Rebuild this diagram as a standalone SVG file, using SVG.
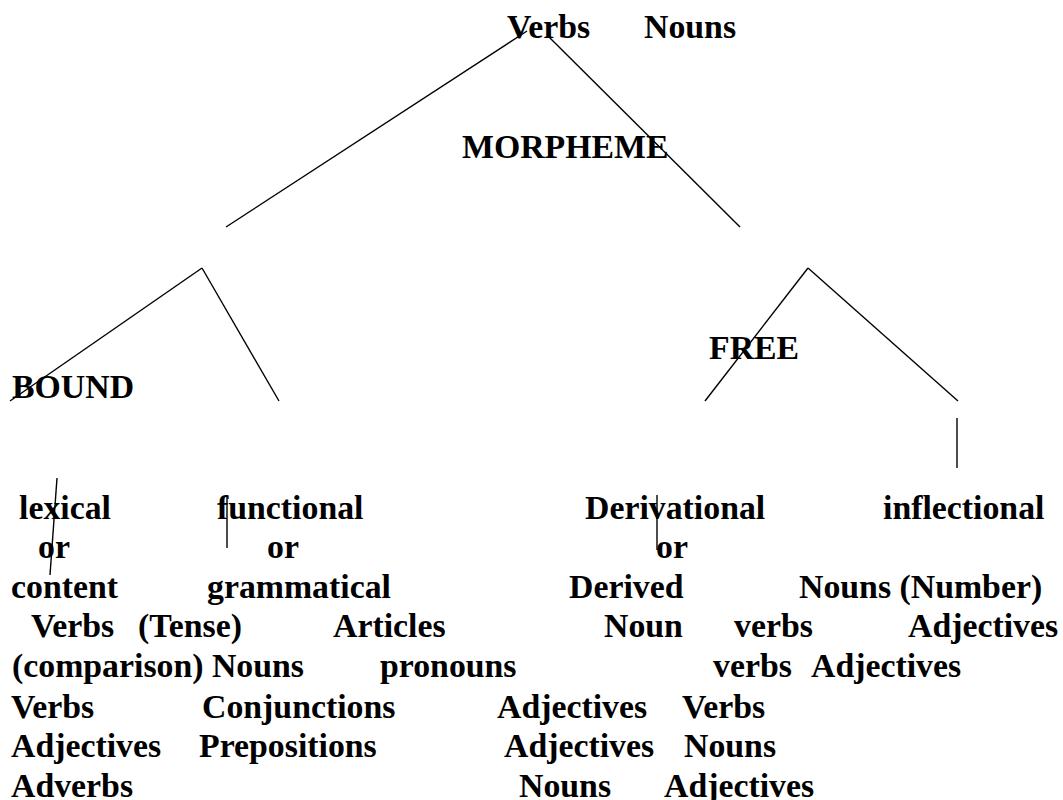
<svg xmlns="http://www.w3.org/2000/svg" width="1063" height="800" viewBox="0 0 1063 800">
<style>
text{font-family:"Liberation Serif","Times New Roman",serif;font-weight:bold;font-size:33.8px;fill:#000}
line{stroke:#000;stroke-width:1.4;fill:none}
</style>
<rect width="1063" height="800" fill="#fff"/>
<g id="connectors">
<line x1="226" y1="227" x2="527" y2="31"/>
<line x1="549" y1="37" x2="740" y2="227"/>
<line x1="10" y1="401" x2="202" y2="268"/>
<line x1="202" y1="268" x2="279" y2="401"/>
<line x1="705" y1="401" x2="808" y2="268"/>
<line x1="808" y1="268" x2="958" y2="401"/>
<line x1="957" y1="418" x2="957" y2="468"/>
<line x1="57" y1="478" x2="50" y2="575"/>
<line x1="227" y1="497" x2="227" y2="548"/>
<line x1="657" y1="495" x2="657" y2="550"/>
</g>
<g id="top-labels"><text x="507" y="38">Verbs</text><text x="644" y="38">Nouns</text></g>
<g id="morpheme"><text x="462" y="158">MORPHEME</text></g>
<g id="bound"><text x="12" y="398">BOUND</text></g>
<g id="free"><text x="709" y="359">FREE</text></g>
<g id="lexical">
<text x="19" y="519">lexical</text>
<text x="38" y="558">or</text>
<text x="11" y="598">content</text>
<text x="31" y="637">Verbs</text>
<text x="138" y="637">(Tense)</text>
<text x="12" y="677">(comparison) Nouns</text>
<text x="11" y="718">Verbs</text>
<text x="11" y="757">Adjectives</text>
<text x="11" y="797">Adverbs</text>
</g>
<g id="functional">
<text x="217" y="519">functional</text>
<text x="267" y="558">or</text>
<text x="207" y="598">grammatical</text>
<text x="333" y="637">Articles</text>
<text x="380" y="677">pronouns</text>
<text x="202" y="718">Conjunctions</text>
<text x="199" y="757">Prepositions</text>
</g>
<g id="derivational">
<text x="585" y="519">Derivational</text>
<text x="656" y="558">or</text>
<text x="569" y="598">Derived</text>
<text x="604" y="637">Noun</text>
<text x="734" y="637">verbs</text>
<text x="713" y="677">verbs</text>
<text x="811" y="677">Adjectives</text>
<text x="497" y="718">Adjectives</text>
<text x="682" y="718">Verbs</text>
<text x="504" y="757">Adjectives</text>
<text x="684" y="757">Nouns</text>
<text x="519" y="797">Nouns</text>
<text x="664" y="797">Adjectives</text>
</g>
<g id="inflectional">
<text x="883" y="519">inflectional</text>
<text x="799" y="598">Nouns (Number)</text>
<text x="908" y="637">Adjectives</text>
</g>
</svg>
